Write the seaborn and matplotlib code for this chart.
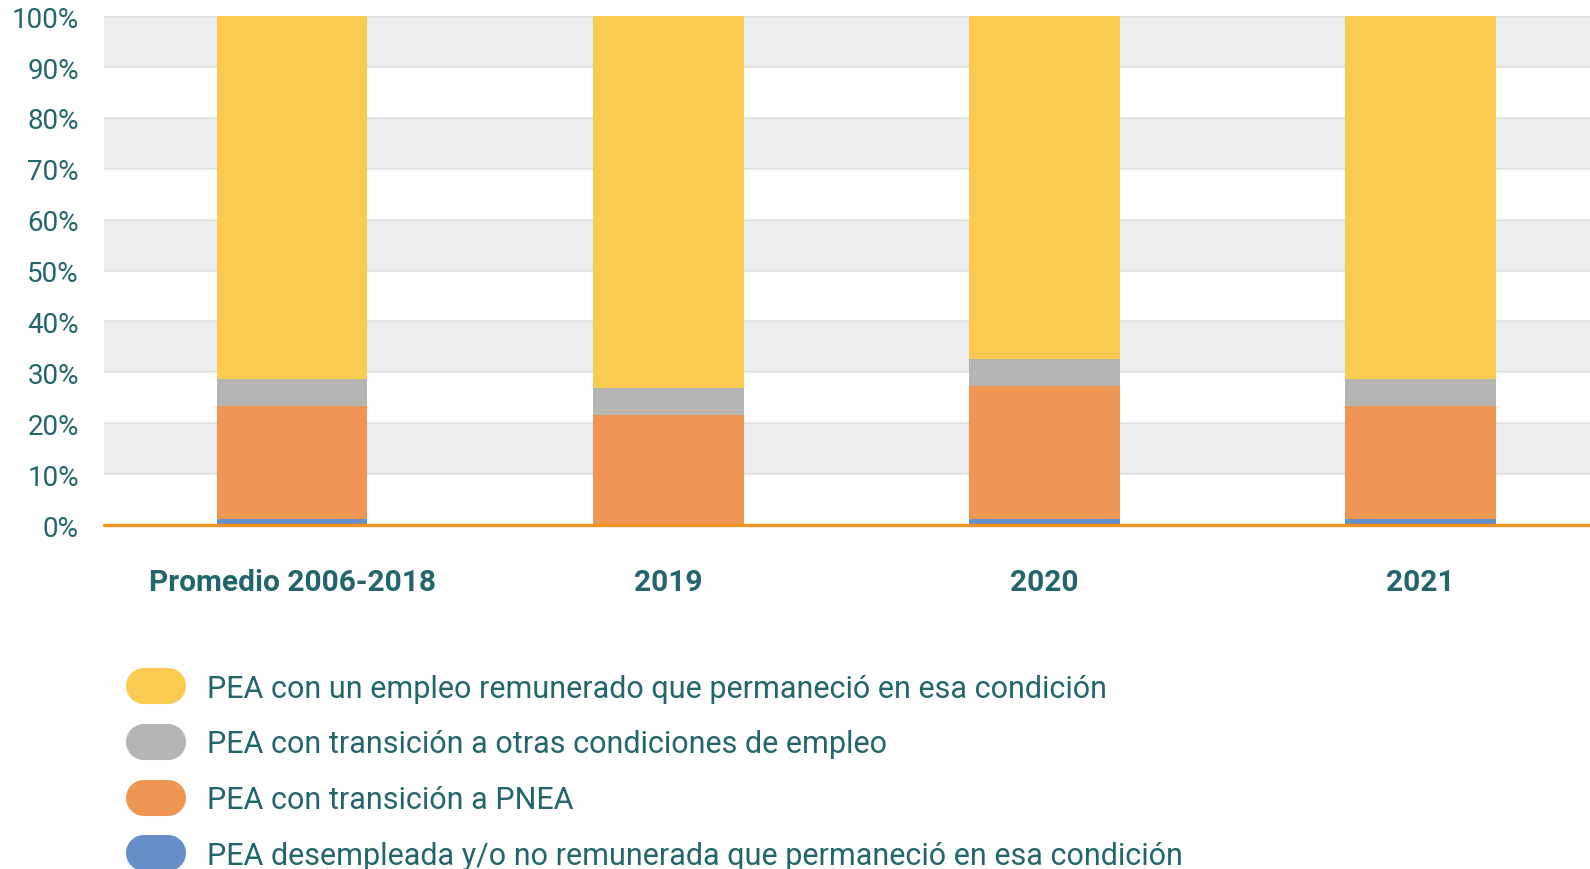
import pandas as pd
import seaborn as sns
import matplotlib.pyplot as plt
from matplotlib.lines import Line2D

# data (percent of PEA)
categories = ["Promedio 2006-2018", "2019", "2020", "2021"]
desempleada = [1.2, 0.0, 1.2, 1.2]
trans_pnea = [22.1, 21.6, 26.2, 22.1]
trans_otras = [5.3, 5.3, 5.2, 5.3]
permanecio = [71.4, 73.1, 67.4, 71.4]

labels = ["PEA con un empleo remunerado que permaneció en esa condición",
          "PEA con transición a otras condiciones de empleo",
          "PEA con transición a PNEA",
          "PEA desempleada y/o no remunerada que permaneció en esa condición"]
colors = ["#f9cb50", "#b5b5b3", "#ef9654", "#658ec8"]
text_col = "#22666b"

sns.set_style("white")
plt.rcParams['font.family'] = ['Roboto', 'DejaVu Sans']

df = pd.DataFrame({"cat": categories, "blue": desempleada, "orange": trans_pnea,
                   "gray": trans_otras, "yellow": permanecio})
df["c_blue"] = df["blue"]
df["c_orange"] = df["c_blue"] + df["orange"]
df["c_gray"] = df["c_orange"] + df["gray"]
df["c_yellow"] = df["c_gray"] + df["yellow"]

fig = plt.figure(figsize=(15.9, 8.7), dpi=100)
ax = fig.add_axes([0.0654, 0.3954, 0.9346, 0.5848])

# alternating background bands
for lo in range(10, 100, 20):
    ax.axhspan(lo, lo + 10, color="#ebecee", zorder=0, lw=0)
for v in range(10, 101, 10):
    ax.axhline(v, color="#dfe0e3", lw=1.2, zorder=0.5)

# stacked bars, tallest cumulative first
for col, c in zip(["c_yellow", "c_gray", "c_orange", "c_blue"], colors):
    sns.barplot(data=df, x="cat", y=col, color=c, width=0.4, saturation=1,
                ax=ax, zorder=2, linewidth=0)

ax.axhline(0, color="#ef9220", lw=2.4, zorder=5, clip_on=False)

ax.set_ylim(0, 100)
ax.set_xlim(-0.5, 3.45)
ax.set_yticks(range(0, 101, 10))
ax.set_yticklabels([f"{v}%" for v in range(0, 101, 10)])
ax.set_xlabel("")
ax.set_ylabel("")
ax.tick_params(axis="y", length=0, pad=18, labelsize=20, labelcolor=text_col)
ax.tick_params(axis="x", length=0, pad=31, labelsize=21.5, labelcolor=text_col)
for t in ax.get_xticklabels():
    t.set_fontweight("bold")
sns.despine(ax=ax, left=True, bottom=True)

handles = [Line2D([0, 1], [0, 0], color=c, lw=26, solid_capstyle="round") for c in colors]
fig.legend(handles, labels, loc="upper left", bbox_to_anchor=(0.0906, 0.2247),
           frameon=False, fontsize=22, labelcolor=text_col, borderpad=0,
           borderaxespad=0, handlelength=0.78, handletextpad=1.27,
           labelspacing=0.88)

fig.savefig("out.png", dpi=100)
